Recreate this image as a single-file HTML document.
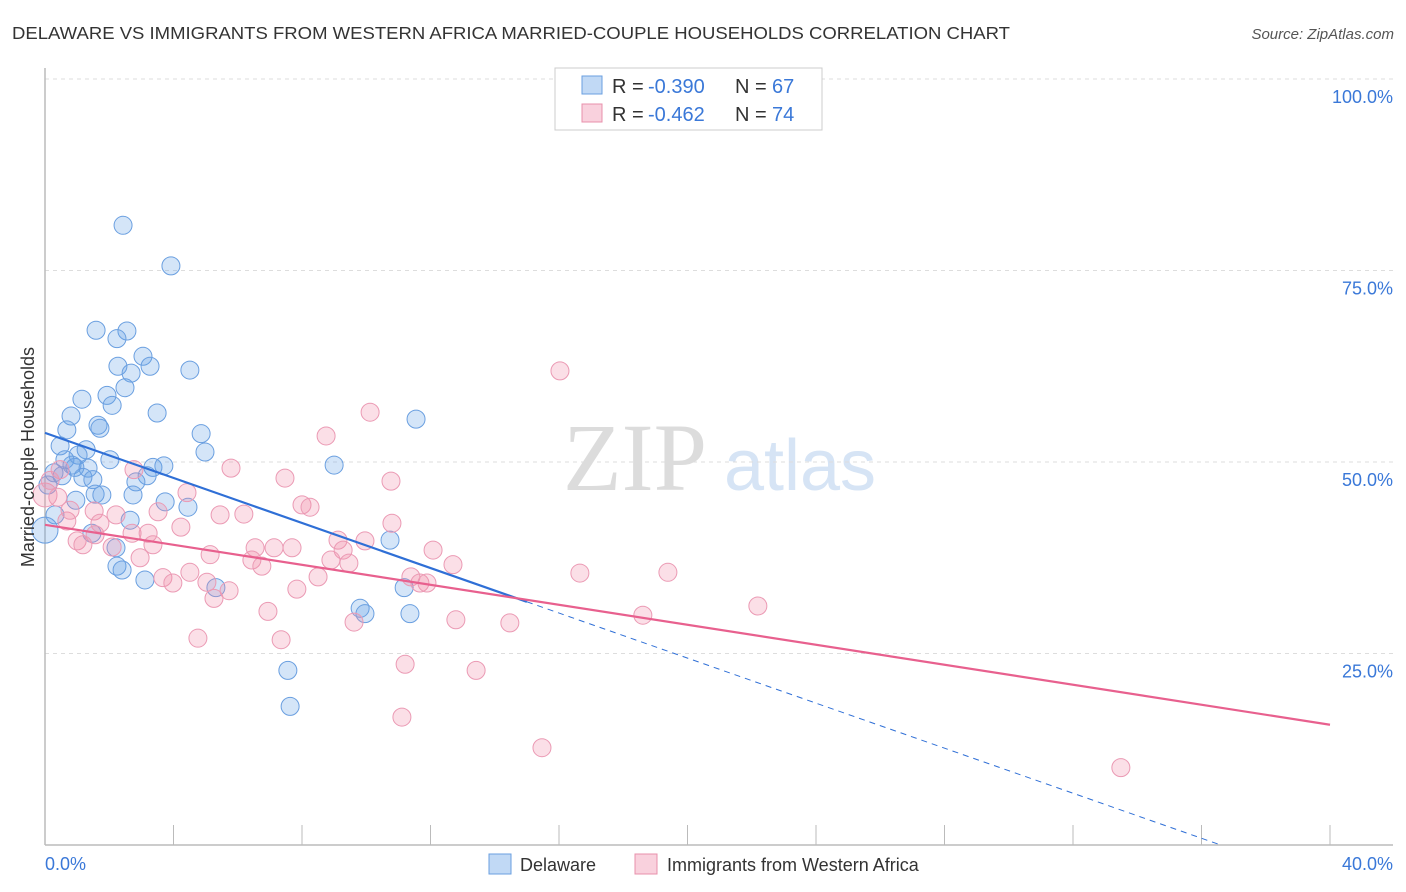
<!DOCTYPE html>
<html><head><meta charset="utf-8">
<style>
body{margin:0;background:#fff;font-family:"Liberation Sans",sans-serif;}
#wrap{position:relative;width:1406px;height:892px;overflow:hidden;}
</style></head>
<body>
<div id="wrap">
<svg id="chart" width="1406" height="892" xmlns="http://www.w3.org/2000/svg">
<text x="12" y="39" font-size="17.5" fill="#333" textLength="998" lengthAdjust="spacingAndGlyphs">DELAWARE VS IMMIGRANTS FROM WESTERN AFRICA MARRIED-COUPLE HOUSEHOLDS CORRELATION CHART</text>
<text x="1394" y="39" font-size="15" fill="#555" font-style="italic" text-anchor="end">Source: ZipAtlas.com</text>
<g>
<text x="635" y="490" font-size="96" font-family="Liberation Serif,serif" fill="#dcdcdc" text-anchor="middle">ZIP</text>
<text x="800" y="490" font-size="72" fill="#d6e4f5" text-anchor="middle">atlas</text>
</g>
<g id="grid"></g>
<g id="axes"></g>
<g id="marks"></g>
<g id="lines"></g>
<text transform="translate(34,457) rotate(-90)" font-size="18" fill="#333" text-anchor="middle">Married-couple Households</text>
<g>
<rect x="555" y="68" width="267" height="62" fill="#fff" stroke="#ccc"/>
<rect x="582" y="76" width="20" height="18" fill="rgba(100,160,230,0.4)" stroke="#6a9fe0"/>
<text x="612" y="93" font-size="20" fill="#333">R =</text>
<text x="648" y="93" font-size="20" fill="#3a78d8">-0.390</text>
<text x="735" y="93" font-size="20" fill="#333">N =</text>
<text x="772" y="93" font-size="20" fill="#3a78d8">67</text>
<rect x="582" y="104" width="20" height="18" fill="rgba(240,140,170,0.4)" stroke="#e890ab"/>
<text x="612" y="121" font-size="20" fill="#333">R =</text>
<text x="648" y="121" font-size="20" fill="#3a78d8">-0.462</text>
<text x="735" y="121" font-size="20" fill="#333">N =</text>
<text x="772" y="121" font-size="20" fill="#3a78d8">74</text>
</g>
<g>
<rect x="489" y="854" width="22" height="20" fill="rgba(100,160,230,0.4)" stroke="#6a9fe0"/>
<text x="520" y="871" font-size="18" fill="#333">Delaware</text>
<rect x="635" y="854" width="22" height="20" fill="rgba(240,140,170,0.4)" stroke="#e890ab"/>
<text x="667" y="871" font-size="18" fill="#333">Immigrants from Western Africa</text>
</g>
</svg>
</div>
<script>
const blueX=[2.43,3.92,1.59,2.55,2.24,3.05,3.27,2.27,2.68,4.51,2.49,1.93,1.15,2.09,3.49,0.81,1.65,1.71,0.68,4.86,4.98,0.47,1.28,1.03,0.62,0.84,1.34,0.93,3.36,3.70,9.0,11.55,0.28,0.53,1.18,1.49,3.18,2.83,0.09,1.56,1.77,2.74,3.74,4.45,2.65,0.31,1.46,10.74,2.21,2.24,2.40,3.11,5.32,9.81,9.96,11.18,11.36,7.56,7.63,0.0,0.96,2.02];
const blueY=[80.9,75.6,67.2,67.1,66.1,63.8,62.5,62.5,61.6,62.0,59.7,58.7,58.2,57.4,56.4,56.0,54.8,54.4,54.2,53.7,51.3,52.1,51.6,50.9,50.3,49.6,49.2,49.3,49.3,49.5,49.6,55.6,48.6,48.2,48.0,47.7,48.2,47.4,47.0,45.8,45.7,45.7,44.8,44.1,42.4,43.1,40.7,39.8,38.8,36.4,35.9,34.6,33.6,30.9,30.2,33.6,30.2,22.8,18.1,41.1,45.0,50.3];
const pinkX=[16.03,10.12,8.75,5.79,7.47,10.77,4.42,2.77,8.0,8.25,10.80,3.52,6.19,5.45,2.21,1.53,0.68,1.71,2.71,4.23,3.21,1.56,1.0,1.18,2.09,2.96,3.36,5.14,6.54,7.13,7.69,9.12,9.96,9.28,9.46,6.44,6.75,8.90,12.08,12.70,11.39,11.67,11.89,8.50,7.84,3.67,3.98,4.51,5.04,5.73,5.26,6.94,9.62,12.79,14.47,16.65,19.39,18.61,22.19,4.76,7.35,11.21,13.42,11.11,15.47,33.49,0.0,0.40,0.78,0.47,0.16];
const pinkY=[61.9,56.5,53.4,49.2,47.9,47.5,46.0,49.0,44.4,44.1,42.0,43.5,43.2,43.1,43.1,43.6,42.3,42.0,40.7,41.5,40.7,40.5,39.7,39.2,38.9,37.5,39.2,37.9,38.8,38.8,38.8,39.8,39.7,38.5,36.8,37.2,36.4,37.2,38.5,36.6,35.0,34.2,34.2,35.0,33.4,34.9,34.2,35.6,34.3,33.2,32.2,30.5,29.1,29.4,29.0,35.5,35.6,30.0,31.2,27.0,26.8,23.6,22.8,16.7,12.7,10.1,45.7,45.4,43.7,49.0,47.6];
const yTicks=[25,50,75,100];
const yTickLabels=["25.0%","50.0%","75.0%","100.0%"];
const xTicks=[0,4,8,12,16,20,24,28,32,36,40];
const blueTrend=[53.8,-1.47];
const pinkTrend=[41.8,-0.6525];

const NS="http://www.w3.org/2000/svg";
const X=v=>45+v*(1285/40);
const Y=v=>845-v*7.66;
function mk(tag,attrs,parent){const e=document.createElementNS(NS,tag);for(const k in attrs)e.setAttribute(k,attrs[k]);document.getElementById(parent).appendChild(e);return e;}
yTicks.forEach((t,i)=>{
 const g=mk('line',{x1:45,x2:1393,y1:Y(t),y2:Y(t),stroke:'#ddd','stroke-dasharray':'4,4'},'grid');
 
 
 const l=mk('text',{x:1393,y:Y(t)+24,'font-size':18,fill:'#3a78d8','text-anchor':'end'},'axes');
 l.textContent=yTickLabels[i];
 
 
});
const xa=mk('line',{x1:45,x2:1393,y1:845,y2:845,stroke:'#bbb','stroke-width':1.5},'axes');


const ya=mk('line',{x1:45,x2:45,y1:68,y2:845,stroke:'#bbb','stroke-width':1.5},'axes');


xTicks.forEach(t=>{const e=mk('line',{x1:X(t),x2:X(t),y1:825,y2:845,stroke:'#bbb'},'axes');
 
 });
const x0=mk('text',{x:45,y:870,'font-size':18,fill:'#3a78d8'},'axes');x0.textContent='0.0%';


const x1=mk('text',{x:1393,y:870,'font-size':18,fill:'#3a78d8','text-anchor':'end'},'axes');x1.textContent='40.0%';


blueX.forEach((v,i)=>{const r=(v===0)?13:9;
 const c=mk('circle',{cx:X(v),cy:Y(blueY[i]),r:r,fill:'rgba(100,160,230,0.28)',stroke:'#6a9fe0','stroke-width':1},'marks');
 
 });
pinkX.forEach((v,i)=>{const r=(v===0)?12:9;
 const c=mk('circle',{cx:X(v),cy:Y(pinkY[i]),r:r,fill:'rgba(240,140,170,0.28)',stroke:'#eb9ab4','stroke-width':1},'marks');
 
 });
const bEnd=15, bZero=-blueTrend[0]/blueTrend[1];
const bl=mk('line',{x1:X(0),y1:Y(blueTrend[0]),x2:X(bEnd),y2:Y(blueTrend[0]+blueTrend[1]*bEnd),stroke:'#2f6fd6','stroke-width':2.2},'lines');


const bd=mk('line',{x1:X(bEnd),y1:Y(blueTrend[0]+blueTrend[1]*bEnd),x2:X(bZero),y2:Y(0),stroke:'#2f6fd6','stroke-width':1,'stroke-dasharray':'6,5'},'lines');


const pl=mk('line',{x1:X(0),y1:Y(pinkTrend[0]),x2:X(40),y2:Y(pinkTrend[0]+pinkTrend[1]*40),stroke:'#e8608e','stroke-width':2.2},'lines');


</script>
</body></html>
